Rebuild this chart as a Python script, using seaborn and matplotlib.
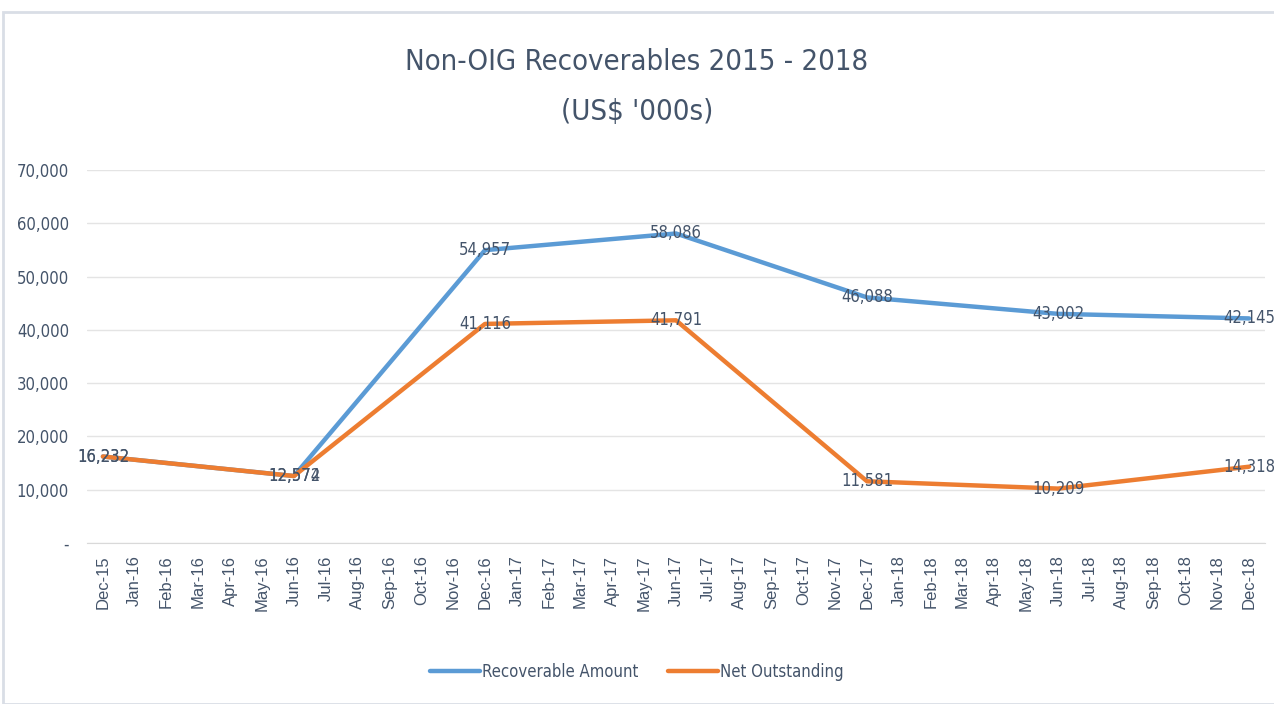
import pandas as pd
import seaborn as sns
import matplotlib.pyplot as plt
from matplotlib.patches import Rectangle
from matplotlib.ticker import FuncFormatter, FixedLocator

# Data
months = ['Dec-15', 'Jan-16', 'Feb-16', 'Mar-16', 'Apr-16', 'May-16', 'Jun-16',
          'Jul-16', 'Aug-16', 'Sep-16', 'Oct-16', 'Nov-16', 'Dec-16', 'Jan-17',
          'Feb-17', 'Mar-17', 'Apr-17', 'May-17', 'Jun-17', 'Jul-17', 'Aug-17',
          'Sep-17', 'Oct-17', 'Nov-17', 'Dec-17', 'Jan-18', 'Feb-18', 'Mar-18',
          'Apr-18', 'May-18', 'Jun-18', 'Jul-18', 'Aug-18', 'Sep-18', 'Oct-18',
          'Nov-18', 'Dec-18']
points = ['Dec-15', 'Jun-16', 'Dec-16', 'Jun-17', 'Dec-17', 'Jun-18', 'Dec-18']
recoverable = [16232, 12574, 54957, 58086, 46088, 43002, 42145]
net_outstanding = [16232, 12572, 41116, 41791, 11581, 10209, 14318]

sns.set_style('white')
plt.rcParams['font.family'] = ['DejaVu Sans']
plt.rcParams['font.stretch'] = 'condensed'
txt = '#44546A'

df = pd.DataFrame({
    'pos': [months.index(m) for m in points] * 2,
    'value': recoverable + net_outstanding,
    'series': ['Recoverable Amount'] * len(points) + ['Net Outstanding'] * len(points),
})

fig = plt.figure(figsize=(12.74, 7.04), dpi=100)
fig.patches.append(Rectangle((3 / 1274, 0), 1, 1 - 12 / 704, transform=fig.transFigure,
                             fill=False, edgecolor='#D9DEE6', linewidth=2))
ax = fig.add_axes([87 / 1274, 1 - 543 / 704, (1265 - 87) / 1274, (543 - 170) / 704])

sns.lineplot(data=df, x='pos', y='value', hue='series',
             palette={'Recoverable Amount': '#5B9BD5', 'Net Outstanding': '#ED7D31'},
             linewidth=3.2, ax=ax, legend=True)

# data labels
for p, v in zip(df['pos'], df['value']):
    ax.text(p, v, f'{v:,}', ha='center', va='center', fontsize=12, color=txt)

ax.set_xlim(-0.5, len(months) - 0.5)
ax.set_ylim(0, 70000)
ax.set_xticks(range(len(months)))
ax.set_xticklabels(months, rotation=90, fontsize=12, color=txt,
                   family='Liberation Sans', fontstretch='normal')
ax.xaxis.set_minor_locator(FixedLocator([i - 0.5 for i in range(len(months) + 1)]))
ax.tick_params(axis='x', which='major', length=0, pad=9)
ax.tick_params(axis='x', which='minor', length=8, color='#D9D9D9', width=1)
ax.set_yticks(range(0, 70001, 10000))
ax.yaxis.set_major_formatter(FuncFormatter(lambda v, _: '-' if v == 0 else f'{int(v):,}'))
ax.tick_params(axis='y', length=0, labelsize=12, labelcolor=txt, pad=13)
ax.grid(axis='y', color='#E4E4E4', linewidth=1)
ax.set_xlabel('')
ax.set_ylabel('')
for s in ['top', 'right', 'left']:
    ax.spines[s].set_visible(False)
ax.spines['bottom'].set_color('#D9D9D9')

fig.text(0.5, 1 - 62 / 704, 'Non-OIG Recoverables 2015 - 2018', ha='center', va='center',
         fontsize=21, color=txt)
fig.text(0.5, 1 - 112 / 704, "(US$ '000s)", ha='center', va='center',
         fontsize=21, color=txt)

leg = ax.legend(loc='center', bbox_to_anchor=(0.5, 1 - 672 / 704), bbox_transform=fig.transFigure,
                ncol=2, frameon=False, fontsize=12, handlelength=3, handletextpad=0.1,
                columnspacing=1.8)
for t in leg.get_texts():
    t.set_color(txt)

fig.savefig('out.png', dpi=100)
